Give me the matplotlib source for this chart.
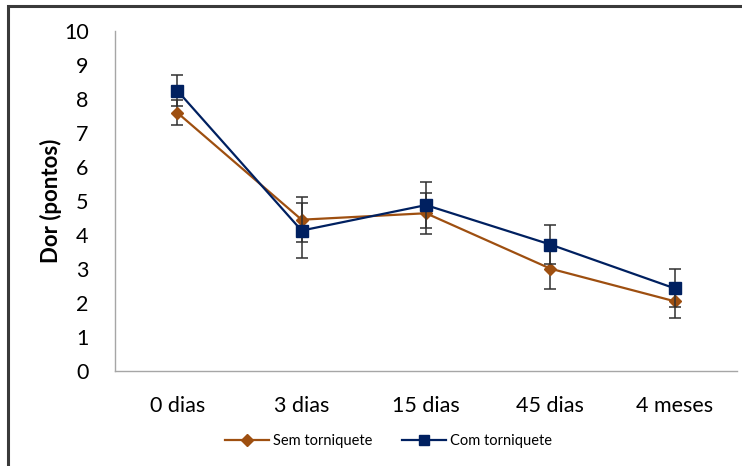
import matplotlib
matplotlib.use("Agg")
import matplotlib.pyplot as plt
from matplotlib.patches import Rectangle
from matplotlib.lines import Line2D

# Data
categories = ["0 dias", "3 dias", "15 dias", "45 dias", "4 meses"]
sem_mean = [7.60, 4.45, 4.64, 3.01, 2.05]
sem_err = [0.37, 0.66, 0.60, 0.61, 0.48]
com_mean = [8.25, 4.13, 4.88, 3.72, 2.43]
com_err = [0.45, 0.80, 0.67, 0.57, 0.56]

ORANGE = "#9E4F10"
NAVY = "#002060"

plt.rcParams["font.family"] = ["Lato", "DejaVu Sans"]

fig = plt.figure(figsize=(7.42, 4.66), dpi=100)
ax = fig.add_axes([115 / 742, 1 - 371 / 466, 622 / 742, 340 / 466])

x = [i + 0.5 for i in range(len(categories))]

ax.errorbar(x, sem_mean, yerr=sem_err, color=ORANGE, lw=1.6, marker="D",
            markersize=6.5, ecolor="#303030", elinewidth=1.1, capsize=4,
            capthick=1.1, zorder=3)
ax.errorbar(x, com_mean, yerr=com_err, color=NAVY, lw=1.6, marker="s",
            markersize=8, ecolor="#303030", elinewidth=1.1, capsize=4,
            capthick=1.1, zorder=4)

ax.set_xlim(0, len(categories))
ax.set_ylim(0, 10)
ax.set_yticks(range(0, 11))
ax.set_xticks(x)
ax.set_xticklabels(categories)
ax.tick_params(axis="both", length=0, labelsize=15.5, colors="#000000")
ax.tick_params(axis="y", pad=19)
ax.tick_params(axis="x", pad=18)

for side in ["top", "right"]:
    ax.spines[side].set_visible(False)
for side in ["left", "bottom"]:
    ax.spines[side].set_color("#A6A6A6")
    ax.spines[side].set_linewidth(1.0)

ax.set_ylabel("Dor (pontos)", fontsize=16, fontweight="bold", labelpad=1)

handles = [
    Line2D([], [], color=ORANGE, lw=1.6, marker="D", markersize=6),
    Line2D([], [], color=NAVY, lw=1.6, marker="s", markersize=7),
]
ax.legend(handles, ["Sem torniquete", "Com torniquete"], loc="center",
          bbox_to_anchor=(0.44, -0.205), ncol=2, frameon=False, fontsize=10.5,
          handlelength=3.0, columnspacing=2.0, handletextpad=0.3)

# outer frame (clipped by image edges on right and bottom)
fig.patches.append(Rectangle((8 / 742, -0.05), 1.2, (466 - 6) / 466 + 0.05,
                             transform=fig.transFigure, fill=False,
                             edgecolor="#3A3A3A", lw=2.2))

fig.savefig("out.png", dpi=100)
